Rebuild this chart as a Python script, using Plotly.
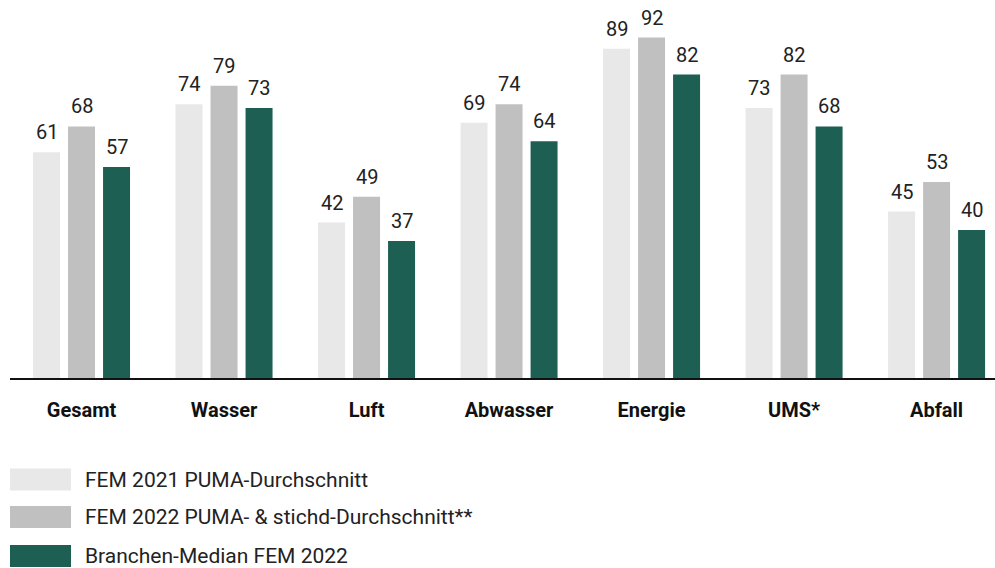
import plotly.graph_objects as go

categories = ["Gesamt", "Wasser", "Luft", "Abwasser", "Energie", "UMS*", "Abfall"]
series_names = ["FEM 2021 PUMA-Durchschnitt",
                "FEM 2022 PUMA- & stichd-Durchschnitt**",
                "Branchen-Median FEM 2022"]
fem2021 = [61, 74, 42, 69, 89, 73, 45]
fem2022 = [68, 79, 49, 74, 92, 82, 53]
median2022 = [57, 73, 37, 64, 82, 68, 40]
colors = ["#e8e8e8", "#c0c0c0", "#1d5f53"]

W, H = 995, 568
ML, MR, MT, MB = 10, 0, 8, 190
PW, PH = W - ML - MR, H - MT - MB
FONT = "Roboto"

def px2x(px):
    return (px - ML) / PW

def px2y(py):
    return (H - MB - py) / PH

fig = go.Figure()
all_series = [fem2021, fem2022, median2022]
for name, vals, c in zip(series_names, all_series, colors):
    fig.add_trace(go.Bar(x=categories, y=vals, name=name, marker_color=c,
                         marker_line_width=0, showlegend=False, hoverinfo="skip"))

offsets = [-35, 0, 35]
annotations = []
for vals, off in zip(all_series, offsets):
    for cat, v in zip(categories, vals):
        annotations.append(dict(x=cat, y=v, text=str(v), showarrow=False,
                                xanchor="center", yanchor="bottom", xshift=off, yshift=6,
                                font=dict(family=FONT, size=20, color="#222222")))

shapes = []
row_centers = [479.5, 517, 556]
for name, c, cy in zip(series_names, colors, row_centers):
    shapes.append(dict(type="rect", xref="paper", yref="paper",
                       x0=px2x(10), x1=px2x(71), y0=px2y(cy + 11), y1=px2y(cy - 11),
                       fillcolor=c, line_width=0))
    annotations.append(dict(xref="paper", yref="paper", x=px2x(83), y=px2y(cy),
                            text=name, showarrow=False, xanchor="left", yanchor="middle",
                            font=dict(family=FONT, size=21, color="#222222")))

fig.update_layout(
    width=W, height=H,
    margin=dict(l=ML, r=MR, t=MT, b=MB),
    paper_bgcolor="white", plot_bgcolor="white",
    barmode="group", bargap=0.263, bargroupgap=0.229,
    xaxis=dict(range=[-0.502, 6.41], showline=True, linecolor="#111111", linewidth=1.5,
               showgrid=False, zeroline=False, ticks="", ticklabelstandoff=13,
               tickfont=dict(family=FONT, size=20, color="#111111", weight="bold")),
    yaxis=dict(range=[0, 100], visible=False, showgrid=False, zeroline=False),
    annotations=annotations, shapes=shapes,
)
fig.write_html("out.html", config={"displayModeBar": False},
               post_script="document.body.style.margin='0';document.body.style.overflow='hidden';")
